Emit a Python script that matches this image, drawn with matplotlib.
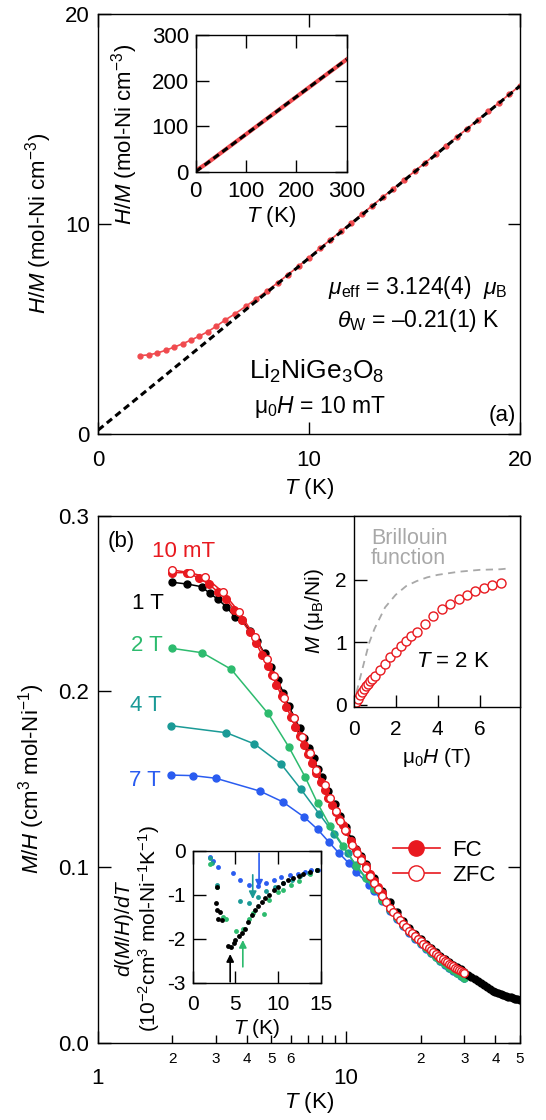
import numpy as np
import matplotlib
matplotlib.use('Agg')
import matplotlib.pyplot as plt
from matplotlib.lines import Line2D
from matplotlib.ticker import FixedLocator, FixedFormatter, NullFormatter

plt.rcParams['font.family'] = ['Liberation Sans', 'DejaVu Sans']
plt.rcParams['mathtext.fontset'] = 'custom'
plt.rcParams['mathtext.rm'] = 'Liberation Sans'
plt.rcParams['mathtext.it'] = 'Liberation Sans:italic'
plt.rcParams['mathtext.bf'] = 'Liberation Sans:bold'
plt.rcParams['axes.unicode_minus'] = False
plt.rcParams['axes.linewidth'] = 1.0

#------------------------ colores
red = '#e8191f'
red_a = '#f04a4e'
green = '#2dbb6e'
teal = '#1a9a96'
blue = '#2a5cf0'

#------------------------ (a) H/M vs T
T_a = [2.0, 2.4, 2.8, 3.2, 3.6, 4.0, 4.4, 4.8, 5.2, 5.6, 6.0, 6.5, 7.0, 7.5, 8.0, 8.5, 9.0, 9.5, 10.0,
       10.5, 11.0, 11.5, 12.0, 12.5, 13.0, 13.5, 14.0, 14.5, 15.0, 15.5, 16.0, 16.5, 17.0, 17.5,
       18.0, 18.5, 19.0, 19.5, 20.0]
HM_a = [3.72, 3.75, 3.84, 3.97, 4.12, 4.28, 4.46, 4.65, 4.86, 5.12, 5.40, 5.72, 6.07, 6.43, 6.80,
        7.18, 7.58, 7.98, 8.39, 8.83, 9.23, 9.64, 10.05, 10.46, 10.87, 11.28, 11.68, 12.09, 12.50,
        12.91, 13.32, 13.73, 14.13, 14.54, 14.95, 15.36, 15.77, 16.18, 16.59]
fit_T = [0, 20]
fit_HM = [0.17, 16.57]

# inset (a), hasta 300 K
T_ai = [2, 20, 40, 60, 80, 100, 120, 140, 160, 180, 200, 220, 240, 260, 280, 300]
HM_ai = [3.7, 16.6, 33.0, 49.4, 65.8, 82.2, 98.6, 115.0, 131.4, 147.8, 164.2, 180.6, 197.0,
         213.4, 229.8, 246.2]
fit_Ti = [0, 300]
fit_HMi = [0.17, 246.4]

#------------------------ (b) M/H vs T
T_zfc = [2.0, 2.35, 2.7, 3.2, 3.7, 4.3, 4.8, 5.15, 5.65, 6.15, 6.65, 7.15, 7.6, 8.2, 8.65, 9.1, 9.5,
         9.95, 10.6, 11.1, 11.5, 12.0, 12.5, 13.0, 13.5, 14.0, 14.5, 15.0, 15.5, 16.0, 16.5, 17.0,
         17.5, 18.0, 18.5, 19.0, 19.5, 20.0, 20.5, 21.0, 21.5, 22.0, 22.5, 23.0, 23.5, 24.0, 24.5,
         25.0, 25.5, 26.0, 26.5, 27.0, 27.5, 28.0, 28.5, 29.0, 29.5, 30.0]
v_zfc = [0.2690, 0.2675, 0.2652, 0.2563, 0.2453, 0.2310, 0.2182, 0.2087, 0.1963, 0.1846, 0.1741,
         0.1647, 0.1552, 0.1466, 0.1390, 0.1320, 0.1262, 0.1210, 0.1125, 0.1078, 0.1040, 0.0995,
         0.0950, 0.0910, 0.0872, 0.0835, 0.0800, 0.0768, 0.0745, 0.0720, 0.0697, 0.0676, 0.0656,
         0.0638, 0.0622, 0.0606, 0.0591, 0.0577, 0.0563, 0.0550, 0.0538, 0.0526, 0.0515, 0.0504,
         0.0494, 0.0484, 0.0475, 0.0466, 0.0458, 0.0450, 0.0442, 0.0435, 0.0428, 0.0421, 0.0414,
         0.0408, 0.0402, 0.0396]

T_fc = [2.0, 2.3, 2.55, 2.8, 3.05, 3.3, 3.55, 3.8, 4.1, 4.35, 4.6, 4.85, 5.05, 5.25, 5.5, 5.75, 6.0,
        6.25, 6.5, 6.75, 7.0, 7.3, 7.6, 7.9, 8.2, 8.5, 8.8, 9.1, 9.4, 9.7, 10.0, 10.5, 11.0, 11.5,
        12.0, 12.5, 13.0, 13.5, 14.0]
v_fc = [0.2675, 0.2675, 0.2645, 0.2610, 0.2565, 0.2523, 0.2465, 0.2405, 0.2335, 0.2273, 0.2205,
        0.2144, 0.2090, 0.2036, 0.1975, 0.1912, 0.1855, 0.1798, 0.1745, 0.1695, 0.1645, 0.1590,
        0.1535, 0.1485, 0.1438, 0.1395, 0.1352, 0.1312, 0.1275, 0.1238, 0.1203, 0.1148, 0.1097,
        0.1050, 0.1005, 0.0962, 0.0922, 0.0885, 0.0850]

T_1T = [2.0, 2.3, 2.62, 2.83, 3.05, 3.3, 3.56, 3.8, 4.1, 4.4, 4.7, 5.0, 5.3, 5.6, 5.9, 6.2, 6.5, 6.8,
        7.1, 7.4, 7.7, 8.0, 8.5, 9.0, 9.5, 10.0, 10.5, 11.0, 11.5, 12.0, 13, 14, 15, 16, 17, 18, 19,
        20, 21, 22, 23, 24, 25, 26, 27, 28, 29, 30, 31, 32, 33, 34, 35, 36, 37, 38, 39, 40, 41, 42,
        43, 44, 45, 46, 47, 48, 49, 50]
v_1T = [0.2620, 0.2610, 0.2595, 0.2557, 0.2523, 0.2480, 0.2424, 0.2405, 0.2345, 0.2285, 0.2215,
        0.2140, 0.2065, 0.1990, 0.1915, 0.1850, 0.1790, 0.1732, 0.1676, 0.1620, 0.1560, 0.1510,
        0.1435, 0.1360, 0.1290, 0.1230, 0.1160, 0.1105, 0.1060, 0.1015, 0.0935, 0.0865, 0.0800,
        0.0745, 0.0695, 0.0655, 0.0620, 0.0588, 0.0562, 0.0538, 0.0515, 0.0495, 0.0477, 0.0460,
        0.0444, 0.0430, 0.0417, 0.0402, 0.0386, 0.0373, 0.0361, 0.0349, 0.0338, 0.0327, 0.0317,
        0.0307, 0.0297, 0.0288, 0.0282, 0.0276, 0.0270, 0.0266, 0.0262, 0.0258, 0.0254, 0.0250,
        0.0246, 0.0243]

T_2T = [2.0, 2.64, 3.45, 4.85, 5.88, 6.86, 7.69, 8.63, 9.75, 11, 12, 13, 14, 15, 16, 17, 18, 19, 20,
        21, 22, 23, 24, 25, 26, 27, 28, 29, 30]
v_2T = [0.2244, 0.2219, 0.2125, 0.1874, 0.1684, 0.1510, 0.1362, 0.1233, 0.1119, 0.1005, 0.0935,
        0.0872, 0.0815, 0.0762, 0.0714, 0.0672, 0.0634, 0.0600, 0.0568, 0.0540, 0.0514, 0.0490,
        0.0468, 0.0448, 0.0430, 0.0413, 0.0398, 0.0384, 0.0371]

T_4T = [1.98, 3.30, 4.28, 5.48, 6.59, 7.81, 8.97, 10.15, 11, 12, 13, 14, 15, 16, 17, 18, 19, 20, 21,
        22, 23, 24, 25, 26, 27, 28, 29, 30]
v_4T = [0.1804, 0.1764, 0.1700, 0.1586, 0.1442, 0.1301, 0.1188, 0.1078, 0.1010, 0.0940, 0.0875,
        0.0815, 0.0758, 0.0710, 0.0668, 0.0630, 0.0596, 0.0565, 0.0537, 0.0511, 0.0487, 0.0466,
        0.0446, 0.0428, 0.0411, 0.0396, 0.0382, 0.0369]

T_7T = [1.98, 2.42, 2.99, 4.5, 5.56, 6.80, 7.69, 8.51, 9.34, 10.3, 11.0, 12.4, 13.0, 14, 15, 16, 17,
        18, 19, 20, 21, 22, 23, 24, 25, 26, 27, 28, 29, 30]
v_7T = [0.1523, 0.1520, 0.1505, 0.1432, 0.1371, 0.1283, 0.1214, 0.1144, 0.1081, 0.1020, 0.0970,
        0.0900, 0.0862, 0.0805, 0.0752, 0.0705, 0.0663, 0.0626, 0.0592, 0.0561, 0.0533, 0.0508,
        0.0485, 0.0463, 0.0444, 0.0426, 0.0409, 0.0394, 0.0380, 0.0367]

# inset M vs H a 2 K
H_mh = [0, 0.1, 0.2, 0.3, 0.4, 0.5, 0.6, 0.7, 0.8, 0.9, 1.0, 1.25, 1.5, 1.75, 2.0, 2.25, 2.5, 2.75,
        3.0, 3.4, 3.8, 4.2, 4.6, 5.0, 5.4, 5.8, 6.2, 6.6, 7.0]
M_mh = [0, 0.05, 0.10, 0.15, 0.20, 0.25, 0.30, 0.34, 0.38, 0.42, 0.46, 0.56, 0.66, 0.76, 0.85, 0.94,
        1.02, 1.10, 1.17, 1.30, 1.42, 1.53, 1.62, 1.70, 1.76, 1.82, 1.87, 1.91, 1.95]
H_bri = [0, 0.25, 0.5, 0.75, 1.0, 1.5, 2.0, 2.5, 3.0, 3.5, 4.0, 5.0, 6.0, 7.0, 7.3]
M_bri = [0, 0.35, 0.68, 1.0, 1.22, 1.56, 1.76, 1.90, 1.98, 2.04, 2.08, 2.13, 2.16, 2.17, 2.18]

# inset derivada d(M/H)/dT
T_d7 = [2.0, 2.4, 3.0, 4.7, 5.6, 6.6, 7.6, 8.6, 9.5, 10.4, 11.4, 12.3, 13.2, 13.9, 14.7]
d_d7 = [-0.14, -0.23, -0.38, -0.50, -0.67, -0.78, -0.80, -0.74, -0.67, -0.59, -0.55, -0.52, -0.48,
        -0.45, -0.43]
T_d4 = [2.0, 2.3, 2.85, 5.55, 6.65, 7.6, 8.6, 9.6, 10.6, 11.6, 12.6, 13.6, 14.6]
d_d4 = [-0.17, -0.29, -0.78, -1.14, -1.20, -1.05, -0.92, -0.82, -0.74, -0.66, -0.58, -0.50, -0.44]
T_d2 = [2.0, 2.9, 3.6, 3.9, 5.1, 5.9, 6.6, 7.1, 8.3, 9.0, 10.0, 10.6, 11.5, 12.4, 13.7, 14.6]
d_d2 = [-0.30, -0.82, -1.50, -1.55, -1.82, -1.78, -1.55, -1.42, -1.45, -1.12, -0.95, -0.89, -0.78,
        -0.70, -0.52, -0.45]
T_d1 = [2.84, 2.76, 2.9, 3.2, 3.0, 3.4, 4.2, 4.47, 4.8, 4.97, 5.4, 5.8, 6.15, 6.54, 6.93, 7.3, 7.7,
        8.1, 8.5, 8.9, 9.5, 10.0, 10.6, 11.2, 11.8, 12.4, 12.96, 13.7, 14.5]
d_d1 = [-0.82, -1.20, -1.35, -1.39, -1.56, -1.58, -2.17, -2.18, -2.10, -2.03, -1.95, -1.88, -1.77,
        -1.61, -1.46, -1.35, -1.26, -1.16, -1.08, -1.00, -0.89, -0.82, -0.74, -0.67, -0.63, -0.58,
        -0.53, -0.48, -0.44]
# flechas: T, inicio, fin, color
arr_T = [4.4, 5.88, 7.04, 7.78]
arr_y0 = [-2.98, -2.64, -0.55, -0.06]
arr_y1 = [-2.35, -2.03, -1.10, -0.84]
arr_c = ['k', green, teal, blue]

#------------------------#----------------------------#-----------------------#
fig = plt.figure(figsize=(5.46, 11.2), dpi=100)

tk = dict(direction='in', length=9, width=1.0, labelsize=16)

# ---- panel (a)
ax1 = fig.add_axes([0.180, 0.6129, 0.7724, 0.3746])
ax1.plot(T_a, HM_a, '-o', color=red_a, lw=1.2, ms=3.5, zorder=2)
ax1.plot(fit_T, fit_HM, color='k', lw=2.2, ls=(0, (2.2, 1.4)), zorder=3)
ax1.set_xlim(0, 20)
ax1.set_ylim(0, 20)
ax1.set_xticks([0, 10, 20])
ax1.set_yticks([0, 10, 20])
ax1.tick_params(axis='both', top=True, right=True, **tk)
ax1.tick_params(axis='x', pad=12)
ax1.tick_params(axis='y', pad=6)
ax1.set_xlabel('$T$ (K)', fontsize=16)
ax1.set_ylabel('$H/M$ (mol-Ni cm$^{-3}$)', fontsize=16)
ax1.xaxis.set_label_coords(0.5, -0.1, transform=ax1.transAxes)
ax1.yaxis.set_label_coords(-0.105, 0.5, transform=ax1.transAxes)
ax1.text(0.972, 0.349, r'$\mu_{\rm eff}$ = 3.124(4)  $\mu_{\rm B}$', transform=ax1.transAxes,
         ha='right', va='center', fontsize=16.5)
ax1.text(0.953, 0.270, r'$\theta_{\rm W}$ = ' + '\u20130.21(1) K', transform=ax1.transAxes,
         ha='right', va='center', fontsize=16.5)
ax1.text(0.518, 0.149, r'Li$_2$NiGe$_3$O$_8$', transform=ax1.transAxes,
         ha='center', va='center', fontsize=19)
ax1.text(0.525, 0.064, '\u03bc$_0$$H$ = 10 mT', transform=ax1.transAxes,
         ha='center', va='center', fontsize=16.5)
ax1.text(0.99, 0.042, '(a)', transform=ax1.transAxes, ha='right', va='center', fontsize=16)

# inset (a)
ax1i = fig.add_axes([0.3586, 0.8467, 0.2762, 0.1221])
ax1i.plot(T_ai, HM_ai, '-', color=red_a, lw=3.0, zorder=2)
ax1i.plot(fit_Ti, fit_HMi, color='k', lw=2.2, ls=(0, (2.2, 1.4)), zorder=3)
ax1i.set_xlim(0, 300)
ax1i.set_ylim(0, 300)
ax1i.set_xticks([0, 100, 200, 300])
ax1i.set_yticks([0, 100, 200, 300])
ax1i.tick_params(axis='both', top=True, right=True, **tk)
ax1i.tick_params(axis='x', pad=7)
ax1i.tick_params(axis='y', pad=5)
ax1i.set_xlabel('$T$ (K)', fontsize=16)
ax1i.set_ylabel('$H/M$ (mol-Ni cm$^{-3}$)', fontsize=16)
ax1i.xaxis.set_label_coords(0.5, -0.235, transform=ax1i.transAxes)
ax1i.yaxis.set_label_coords(-0.37, 0.27, transform=ax1i.transAxes)

# ---- panel (b)
ax2 = fig.add_axes([0.1789, 0.0690, 0.7726, 0.4707])
ax2.plot(T_7T, v_7T, '-o', color=blue, lw=1.1, ms=5, zorder=2)
ax2.plot(T_4T, v_4T, '-o', color=teal, lw=1.1, ms=5, zorder=2)
ax2.plot(T_2T, v_2T, '-o', color=green, lw=1.1, ms=5, zorder=2)
ax2.plot(T_1T, v_1T, '-o', color='k', lw=1.1, ms=5, zorder=3)
ax2.plot(T_fc, v_fc, '-o', color=red, lw=1.1, ms=5.5, zorder=4)
ax2.plot(T_zfc, v_zfc, '-o', color=red, mfc='white', mec=red, mew=1.0, lw=1.1, ms=5.5, zorder=5)
ax2.set_xscale('log')
ax2.set_xlim(1, 50)
ax2.set_ylim(0, 0.3)
ax2.xaxis.set_major_locator(FixedLocator([1, 10]))
ax2.xaxis.set_major_formatter(FixedFormatter(['1', '10']))
minor_pos = [2, 3, 4, 5, 6, 7, 8, 9, 20, 30, 40, 50]
minor_lab = ['2', '3', '4', '5', '6', '', '', '', '2', '3', '4', '5']
ax2.xaxis.set_minor_locator(FixedLocator(minor_pos))
ax2.xaxis.set_minor_formatter(FixedFormatter(minor_lab))
ax2.set_yticks([0.0, 0.1, 0.2, 0.3])
ax2.set_yticklabels(['0.0', '0.1', '0.2', '0.3'])
ax2.tick_params(axis='y', right=True, pad=6, **tk)
ax2.tick_params(axis='x', which='major', direction='in', length=9, width=1.0, labelsize=16, pad=18)
ax2.tick_params(axis='x', which='minor', direction='in', length=6, width=1.0, labelsize=11, pad=7)
ax2.set_xlabel('$T$ (K)', fontsize=16)
ax2.set_ylabel('$M/H$ (cm$^{3}$ mol-Ni$^{-1}$)', fontsize=16)
ax2.xaxis.set_label_coords(0.5, -0.09, transform=ax2.transAxes)
ax2.yaxis.set_label_coords(-0.12, 0.5, transform=ax2.transAxes)

ax2.text(0.0244, 0.950, '(b)', transform=ax2.transAxes, ha='left', va='center', fontsize=16)
ax2.text(0.1276, 0.931, '10 mT', transform=ax2.transAxes, ha='left', va='center', fontsize=16, color=red)
ax2.text(0.0813, 0.834, '1 T', transform=ax2.transAxes, ha='left', va='center', fontsize=16, color='k')
ax2.text(0.078, 0.753, '2 T', transform=ax2.transAxes, ha='left', va='center', fontsize=16, color=green)
ax2.text(0.0756, 0.6405, '4 T', transform=ax2.transAxes, ha='left', va='center', fontsize=16, color=teal)
ax2.text(0.074, 0.498, '7 T', transform=ax2.transAxes, ha='left', va='center', fontsize=16, color=blue)

handles = [Line2D([], [], color=red, lw=1.2, marker='o', ms=11),
           Line2D([], [], color=red, lw=1.2, marker='o', ms=11, mfc='white', mec=red, mew=1.0)]
ax2.legend(handles, ['FC', 'ZFC'], loc='upper left', bbox_to_anchor=(0.70, 0.385), frameon=False,
           borderpad=0, borderaxespad=0, handlelength=2.1, handletextpad=0.55, labelspacing=0.2,
           fontsize=16)

# inset M vs H
ax3 = fig.add_axes([0.6476, 0.3685, 0.3039, 0.1712])
ax3.plot(H_bri, M_bri, color='#a8a8a8', lw=1.3, ls=(0, (4, 3)))
ax3.plot(H_mh, M_mh, 'o', color=red, mfc='white', mec=red, mew=1.0, ms=6.5)
ax3.set_xlim(0, 7.9)
ax3.set_ylim(-0.04, 3.03)
ax3.set_xticks([0, 2, 4, 6])
ax3.set_yticks([0, 1, 2])
ax3.tick_params(axis='both', direction='in', length=9, width=1.0, labelsize=15)
ax3.tick_params(axis='x', pad=9)
ax3.tick_params(axis='y', pad=5)
ax3.set_xlabel('\u03bc$_0$$H$ (T)', fontsize=15)
ax3.set_ylabel(r'$M$ ($\mathrm{\mu_B}$/Ni)', fontsize=15)
ax3.xaxis.set_label_coords(0.5, -0.2, transform=ax3.transAxes)
ax3.yaxis.set_label_coords(-0.166, 0.5, transform=ax3.transAxes)
ax3.text(0.105, 0.83, 'Brillouin\nfunction', transform=ax3.transAxes, ha='left', va='center',
         fontsize=15.5, color='#a8a8a8', linespacing=0.95)
ax3.text(0.376, 0.238, '$T$ = 2 K', transform=ax3.transAxes, ha='left', va='center', fontsize=16)

# inset derivada
ax4 = fig.add_axes([0.3527, 0.1226, 0.2348, 0.1179])
ax4.plot(T_d7, d_d7, 'o', color=blue, ms=3.5, mew=0)
ax4.plot(T_d4, d_d4, 'o', color=teal, ms=3.5, mew=0)
ax4.plot(T_d2, d_d2, 'o', color=green, ms=3.5, mew=0)
ax4.plot(T_d1, d_d1, 'o', color='k', ms=3.5, mew=0)
for t, y0, y1, c in zip(arr_T, arr_y0, arr_y1, arr_c):
    ax4.annotate('', xy=(t, y1), xytext=(t, y0),
                 arrowprops=dict(arrowstyle='-|>', color=c, lw=1.2, mutation_scale=11, shrinkA=0, shrinkB=0))
ax4.set_xlim(0, 15)
ax4.set_ylim(-3, 0)
ax4.set_xticks([0, 5, 10, 15])
ax4.set_yticks([0, -1, -2, -3])
ax4.tick_params(axis='both', top=True, right=True, direction='in', length=9, width=1.0, labelsize=15)
ax4.tick_params(axis='x', pad=9)
ax4.tick_params(axis='y', pad=5)
ax4.set_xlabel('$T$ (K)', fontsize=15)
ax4.set_ylabel('$d$($M/H$)/$dT$\n(10$^{-2}$cm$^{3}$ mol-Ni$^{-1}$K$^{-1}$)', fontsize=15,
               linespacing=1.0)
ax4.xaxis.set_label_coords(0.5, -0.26, transform=ax4.transAxes)
ax4.yaxis.set_label_coords(-0.24, 0.41, transform=ax4.transAxes)

fig.savefig('out.png', dpi=100)
